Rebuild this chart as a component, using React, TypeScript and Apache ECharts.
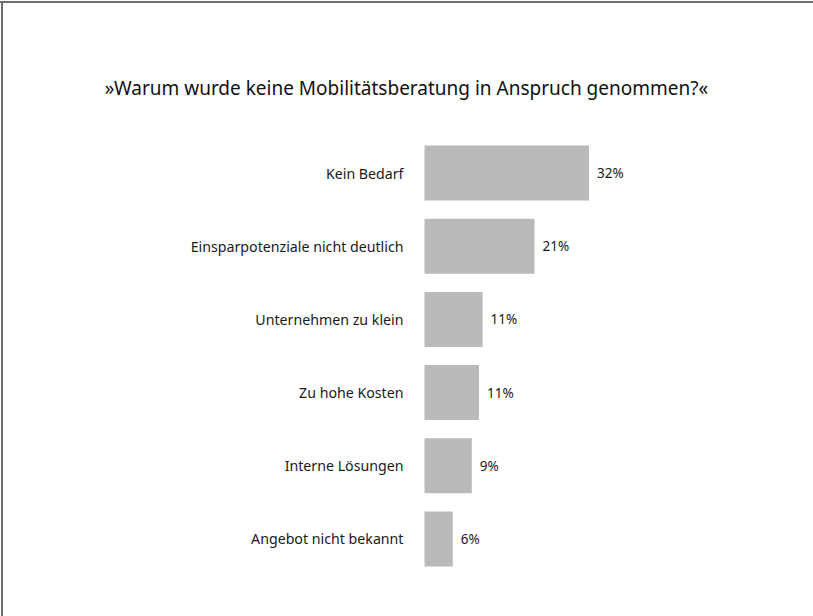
import React, { useEffect, useRef } from "react";
import * as echarts from "echarts";

const categories = [
  "Kein Bedarf",
  "Einsparpotenziale nicht deutlich",
  "Unternehmen zu klein",
  "Zu hohe Kosten",
  "Interne Lösungen",
  "Angebot nicht bekannt",
];
const values = [32.0, 21.4, 11.3, 10.6, 9.2, 5.5];
const titleText = "»Warum wurde keine Mobilitätsberatung in Anspruch genommen?«";

export default function App() {
  const ref = useRef<HTMLDivElement>(null);
  useEffect(() => {
    if (!ref.current) return;
    const chart = echarts.init(ref.current, null, { renderer: "svg" });
    const font = "'Noto Sans', sans-serif";
    chart.setOption({
      animation: false,
      backgroundColor: "#ffffff",
      title: {
        text: titleText,
        left: "center",
        top: 73,
        textStyle: { fontFamily: font, fontSize: 19, fontWeight: "normal", color: "#111111" },
      },
      graphic: [
        { type: "rect", shape: { x: 0, y: 1, width: 813, height: 2 }, style: { fill: "#6e6e6e" } },
        { type: "rect", shape: { x: 1, y: 1, width: 2, height: 615 }, style: { fill: "#6e6e6e" } },
      ],
      grid: { left: 424.5, top: 136.5, width: 257, height: 439 },
      xAxis: {
        type: "value",
        min: 0,
        max: 50,
        show: false,
      },
      yAxis: {
        type: "category",
        data: categories,
        inverse: true,
        axisLine: { show: false },
        axisTick: { show: false },
        axisLabel: { fontFamily: font, fontSize: 14.2, color: "#1a1a1a", margin: 21 },
      },
      series: [
        {
          type: "bar",
          data: values,
          barWidth: 55,
          itemStyle: { color: "#bababa" },
          label: {
            show: true,
            position: "right",
            distance: 8,
            fontFamily: font,
            fontSize: 13.5,
            color: "#1a1a1a",
            formatter: (p: any) => Math.round(p.value) + "%",
          },
        },
      ],
    });
    return () => chart.dispose();
  }, []);
  return <div ref={ref} style={{ position: "fixed", left: 0, top: 0, width: 813, height: 616, overflow: "hidden" }} />;
}
